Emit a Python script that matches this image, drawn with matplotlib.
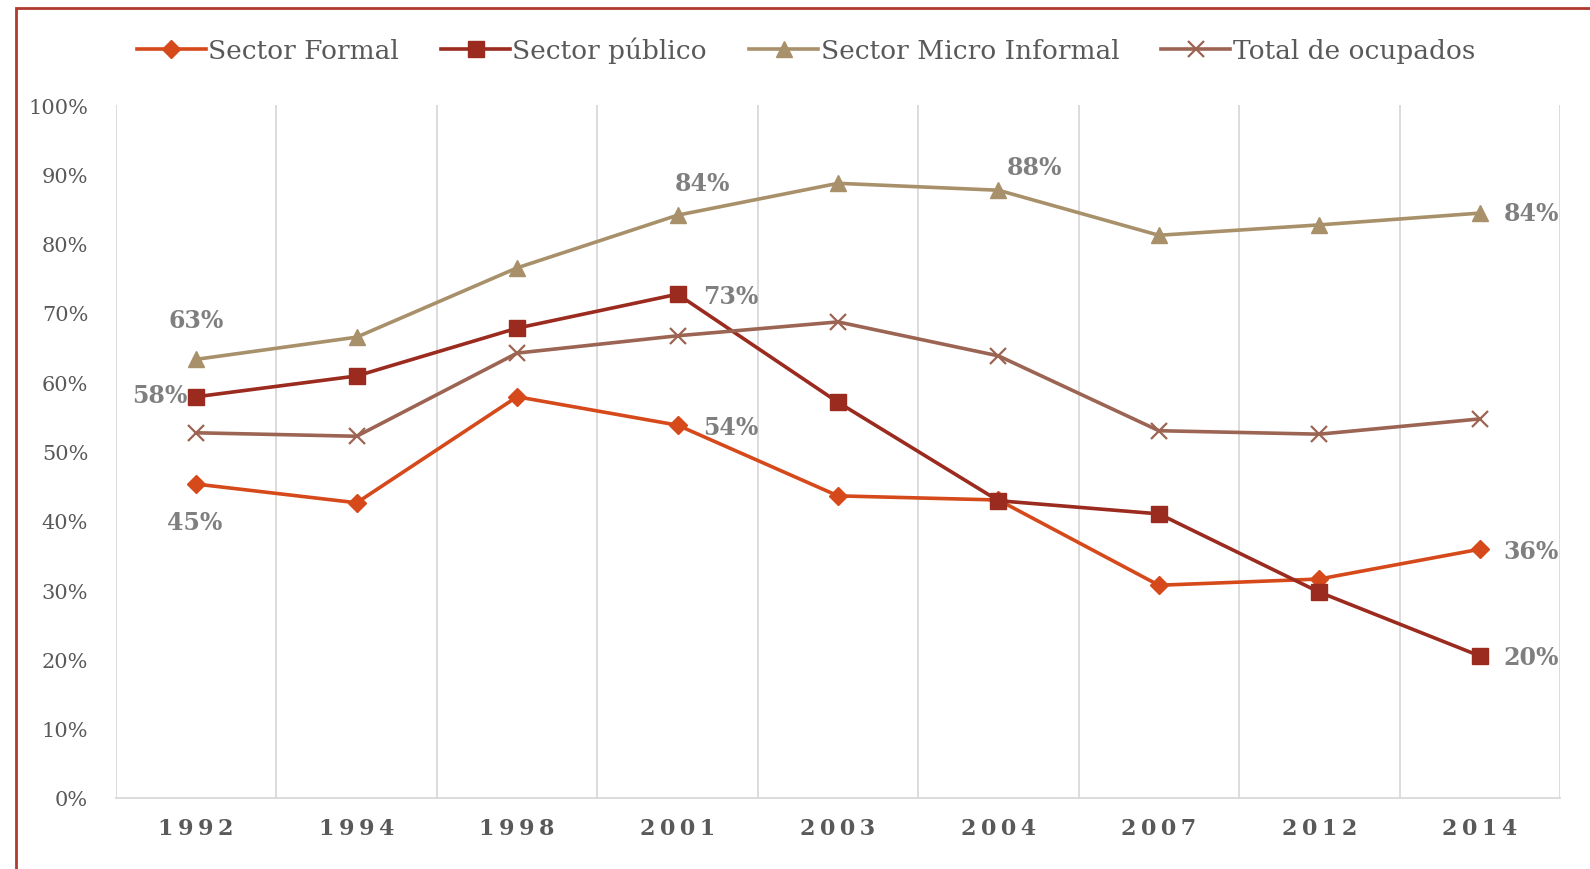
import matplotlib
matplotlib.use("Agg")
import matplotlib.pyplot as plt
from matplotlib.patches import Rectangle
import numpy as np

years = ["1992", "1994", "1998", "2001", "2003", "2004", "2007", "2012", "2014"]
formal = [0.453, 0.426, 0.579, 0.538, 0.436, 0.430, 0.307, 0.316, 0.359]
publico = [0.579, 0.609, 0.678, 0.727, 0.571, 0.429, 0.410, 0.297, 0.205]
micro = [0.633, 0.665, 0.765, 0.841, 0.887, 0.877, 0.812, 0.827, 0.844]
total = [0.527, 0.522, 0.642, 0.667, 0.687, 0.638, 0.530, 0.525, 0.547]

names = ["Sector Formal", "Sector público", "Sector Micro Informal", "Total de ocupados"]
colors = ["#D5491A", "#9B2A1F", "#A8916A", "#9C6452"]
markers = ["D", "s", "^", "x"]
msizes = [9, 12, 12, 12]

# labels: (series index, point index, text, offset)
labels = [
    (2, 0, "63%", (0, 28), "center"),
    (2, 3, "84%", (18, 23), "center"),
    (2, 5, "88%", (26, 17), "center"),
    (2, 8, "84%", (37, 0), "center"),
    (1, 0, "58%", (-26, 1), "center"),
    (1, 3, "73%", (38, -1), "center"),
    (1, 8, "20%", (37, -1), "center"),
    (0, 0, "45%", (-1, -27), "center"),
    (0, 3, "54%", (38, -1), "center"),
    (0, 8, "36%", (37, -1), "center"),
]

plt.rcParams['font.family'] = ['DejaVu Serif']
fig = plt.figure(figsize=(15.9, 8.7), dpi=100)
ax = fig.add_axes([116/1590, 1 - 799/870, (1560-116)/1590, (799-106)/870])

x = np.arange(len(years))
series = [formal, publico, micro, total]
for s, name, c, m, ms in zip(series, names, colors, markers, msizes):
    kw = dict(color=c, lw=2.6, marker=m, markersize=ms, label=name, zorder=3)
    if m == "x":
        kw.update(markeredgewidth=1.6)
    else:
        kw.update(markeredgecolor=c, markerfacecolor=c)
    ax.plot(x, s, **kw)

for si, pi, txt, off, ha in labels:
    ax.annotate(txt, (x[pi], series[si][pi]), xytext=off, textcoords="offset points",
                ha=ha, va="center", fontsize=17, fontweight="bold", color="#7F7F7F",
                zorder=5)

ax.set_xlim(-0.5, len(years) - 0.5)
ax.set_ylim(0, 1.0)
ax.set_yticks(np.arange(0, 1.01, 0.1))
ax.set_yticklabels([f"{int(round(v*100))}%" for v in np.arange(0, 1.01, 0.1)],
                   fontsize=15, color="#595959")
ax.set_xticks(x)
ax.set_xticklabels(["\u2009".join(y) for y in years], fontsize=16, fontweight="bold",
                   color="#595959")
for b in np.arange(-0.5, len(years), 1.0):
    ax.axvline(b, color="#D9D9D9", lw=1.3, zorder=1)
for sp in ["top", "right", "left"]:
    ax.spines[sp].set_visible(False)
ax.spines["bottom"].set_color("#D9D9D9")
ax.spines["bottom"].set_linewidth(1.3)
ax.tick_params(axis="both", length=0)
ax.tick_params(axis="y", pad=20)
ax.tick_params(axis="x", pad=14)

leg = fig.legend(loc="center", bbox_to_anchor=(806/1590, 1 - 51/870), ncol=4, frameon=False,
                 fontsize=19, handlelength=2.6, columnspacing=1.6, handletextpad=0.1,
                 labelcolor="#595959")

# frame border
fig.add_artist(Rectangle((16/1590, -0.1), 1.2, 1 - 9/870 + 0.1, transform=fig.transFigure,
                         fill=False, edgecolor="#B03A2E", lw=2))

fig.savefig("out.png", dpi=100)
